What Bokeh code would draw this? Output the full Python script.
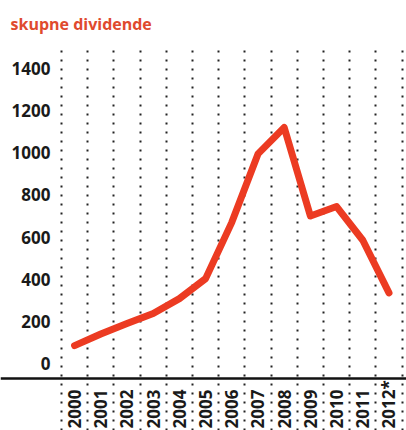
import math
from bokeh.plotting import figure
from bokeh.models import FixedTicker, LinearAxis, Range1d, Grid
from bokeh.core.properties import value
from bokeh.embed import file_html
from bokeh.resources import INLINE

years = ["2000", "2001", "2002", "2003", "2004", "2005", "2006",
         "2007", "2008", "2009", "2010", "2011", "2012*"]
dividends = [85, 140, 190, 237, 308, 403, 670, 995, 1120, 700, 745, 585, 335]
y_ticks = [0, 200, 400, 600, 800, 1000, 1200, 1400]

x = list(range(len(years)))
boundaries = [i - 0.5 for i in range(len(years) + 1)]

FONT = "Open Sans"
RED = "#ec3b22"
LABEL_BASE = -308  # bottom anchor of the rotated year labels

p = figure(width=406, height=430, output_backend="svg", toolbar_location=None,
           x_range=Range1d(-2.828, 12.668), y_range=Range1d(-318, 1519),
           x_axis_type=None, y_axis_type=None, min_border=0,
           min_border_top=43, outline_line_color=None,
           title="skupne dividende")
p.title.text_font = FONT
p.title.text_font_size = "16px"
p.title.text_font_style = "bold"
p.title.text_color = "#df4a2e"
p.title.align = "left"
p.title.offset = 10
p.title.standoff = 17

grid = Grid(dimension=0, ticker=FixedTicker(ticks=boundaries),
            grid_line_dash="2 7", grid_line_width=2, grid_line_color="#222222")
p.add_layout(grid)

yaxis = LinearAxis(fixed_location=-0.767, ticker=FixedTicker(ticks=y_ticks),
                   axis_line_color=None, major_tick_line_color=None,
                   minor_tick_line_color=None, major_tick_out=0, major_tick_in=0,
                   major_label_standoff=4,
                   major_label_text_font=FONT, major_label_text_font_size="17px",
                   major_label_text_font_style="bold",
                   major_label_text_color="#1a1a1a")
p.add_layout(yaxis, "left")

xaxis = LinearAxis(fixed_location=-70, ticker=FixedTicker(ticks=x),
                   axis_line_color="#111111", axis_line_width=2.5,
                   major_tick_line_color=None, minor_tick_line_color=None,
                   major_tick_out=0, major_tick_in=0,
                   major_label_text_color=None, major_label_text_font_size="0px")
p.add_layout(xaxis, "below")

p.text(x=x, y=[LABEL_BASE] * len(years), text=years, angle=math.pi / 2,
       text_align="left", text_baseline="middle",
       text_font=value(FONT), text_font_size="17px", text_font_style="bold",
       text_color="#1a1a1a")

p.line(x, dividends, line_color=RED, line_width=7, line_cap="round",
       line_join="round")

open("out.html", "w").write(file_html(p, INLINE))
